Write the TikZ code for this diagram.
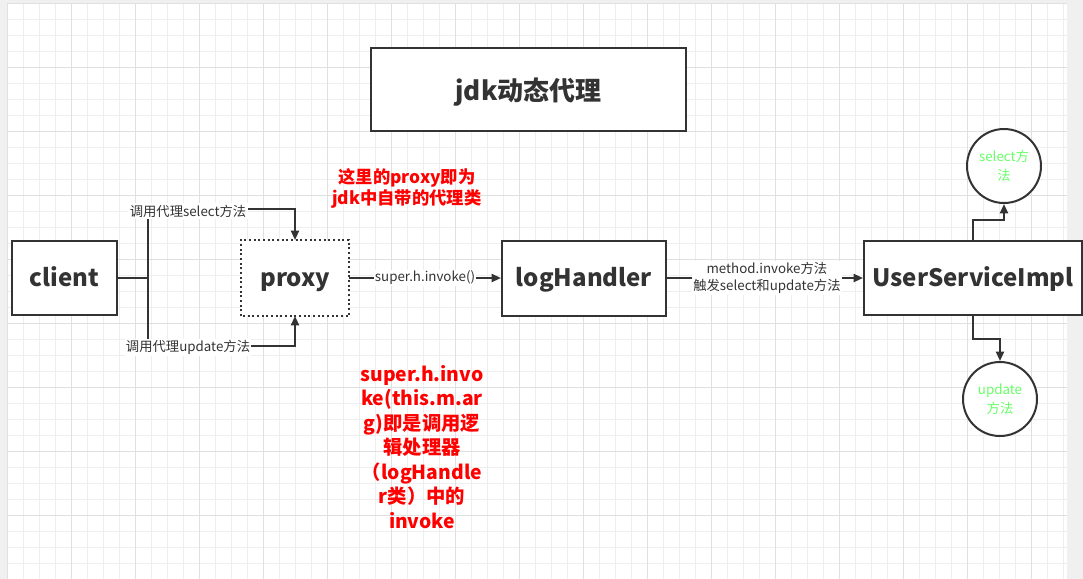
\documentclass[tikz,border=0pt]{standalone}
\usepackage{fontspec}
\setmainfont{Noto Sans CJK SC}
\usetikzlibrary{arrows.meta}
\definecolor{ink}{HTML}{333333}
\definecolor{gridminor}{HTML}{EEEEEE}
\definecolor{gridmajor}{HTML}{E0E0E0}
\definecolor{outside}{HTML}{F0F0F0}
\definecolor{lgreen}{HTML}{66FF66}
\tikzset{
  box/.style={draw=ink, line width=1.5pt, fill=white, text=ink, font=\bfseries\fontsize{18}{20}\selectfont, inner sep=0pt, text height=14pt, text depth=1.2pt},
  circ/.style={circle, draw=ink, line width=1.5pt, fill=white, text=lgreen, font=\fontsize{10}{14}\selectfont, align=center, inner sep=0pt, minimum size=55.5pt},
  conn/.style={draw=ink, line width=1.5pt},
  arr/.style={conn, -{Triangle[length=7pt,width=6pt]}},
  lbl/.style={fill=white, text=ink, font=\fontsize{10}{12.5}\selectfont, inner sep=1pt, align=center},
  redtxt/.style={text=red, font=\bfseries\fontsize{13}{15.8}\selectfont, align=center, inner sep=0pt}
}
\begin{document}
\begin{tikzpicture}[x=0.75pt,y=-0.75pt]
\useasboundingbox (0,0) rectangle (1083,579);
% background
\fill[outside] (0,0) rectangle (1083,579);
\fill[white] (7,3) rectangle (1067,579);
\foreach \i in {0,...,66} {
  \draw[gridminor, line width=0.75pt] (7+16*\i,3) -- (7+16*\i,579);
}
\foreach \j in {0,...,36} {
  \draw[gridminor, line width=0.75pt] (7,3+16*\j) -- (1067,3+16*\j);
}
\foreach \i in {0,...,16} {
  \draw[gridmajor, line width=0.75pt] (7+64*\i,3) -- (7+64*\i,579);
}
\foreach \j in {0,...,9} {
  \draw[gridmajor, line width=0.75pt] (7,3+64*\j) -- (1067,3+64*\j);
}

% nodes
\node[box, minimum width=315*0.75pt, minimum height=83*0.75pt, font=\bfseries\fontsize{19.5}{22}\selectfont, text height=19pt, text depth=1.8pt] (title) at (528.5,89.5) {jdk动态代理};
\node[box, minimum width=105*0.75pt, minimum height=74*0.75pt] (client) at (64.5,278) {client};
\node[box, draw=none, minimum width=106*0.75pt, minimum height=74*0.75pt] (proxy) at (295,278) {proxy};
\draw[ink, line width=1.5pt, dotted] (proxy.south west) rectangle (proxy.north east);
\node[box, minimum width=164*0.75pt, minimum height=75*0.75pt] (log) at (584,278) {logHandler};
\node[box, minimum width=218*0.75pt, minimum height=74*0.75pt] (usi) at (973,278) {UserServiceImpl};
\node[circ] (sel) at (1004,166) {select方\\法};
\node[circ] (upd) at (1000,399) {update\\方法};

% client connectors
\coordinate (jn) at (148,278);
\draw[conn] (client.east) -- (jn);
\draw[arr] (jn) |- (proxy.north |- 0,209) -- (proxy.north);
\draw[arr] (jn) |- (proxy.south |- 0,346) -- (proxy.south);
\node[lbl] (l1) at (188,211) {调用代理select方法};
\node[lbl] (l2) at (188,347) {调用代理update方法};

% main flow
\draw[arr] (proxy.east) -- node[lbl] (l3) {super.h.invoke()} (log.west);
\draw[arr] (log.east) -- node[lbl, pos=0.51] (l4) {method.invoke方法\\触发select和update方法} (usi.west);

% to circles
\draw[arr] (usi.north) -- ++(0,-20) -| (sel.south);
\draw[arr] (usi.south) -- ++(0,23) -| (upd.north);

% red notes
\node[redtxt] (n1) at (407,188.5) {这里的proxy即为\\jdk中自带的代理类};
\node[redtxt, font=\bfseries\fontsize{14.5}{18.4}\selectfont] (n2) at (422,447) {super.h.invo\\ke(this.m.ar\\g)即是调用逻\\辑处理器\\（logHandle\\r类）中的\\invoke};
\end{tikzpicture}
\end{document}
